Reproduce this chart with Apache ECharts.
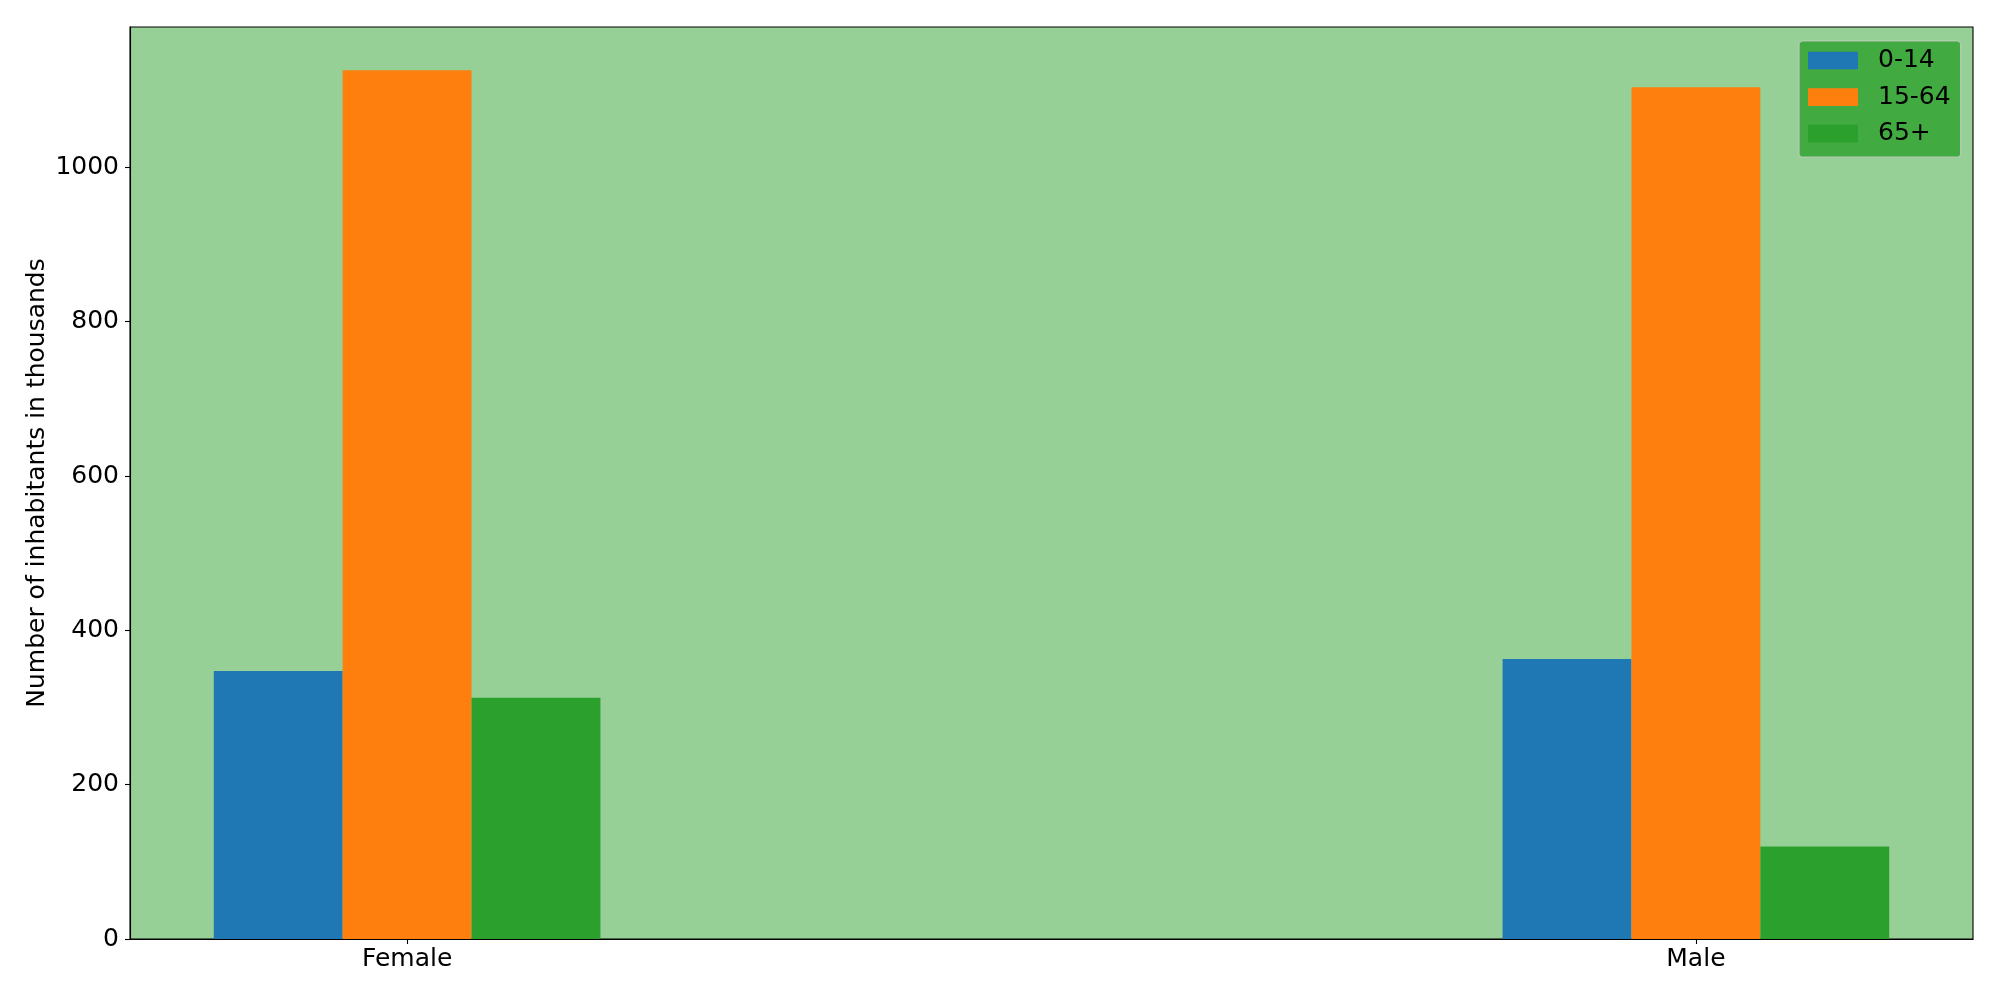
<!DOCTYPE html>
<html>
<head>
<meta charset="utf-8">
<script src="https://cdn.jsdelivr.net/npm/echarts@6/dist/echarts.min.js"></script>
<style>
html,body{margin:0;padding:0;background:#fff;}
#chart{width:2000px;height:1000px;}
</style>
</head>
<body>
<div id="chart"></div>
<script>
const categories = ['Female', 'Male'];
const groups = ['0-14', '15-64', '65+'];
const values0to14 = [347.5, 363];
const values15to64 = [1126, 1104];
const values65plus = [312.6, 119.8];
const yTicks = [0, 200, 400, 600, 800, 1000];
const colors = ['#1f77b4', '#ff7f0e', '#2ca02c'];

const seriesValues = [values0to14, values15to64, values65plus];
const offsets = [-0.1, 0, 0.1];
const barW = 0.1;
const FONT = 'DejaVu Sans';
const FS = 25;

const chart = echarts.init(document.getElementById('chart'), null, {renderer: 'canvas'});

const series = groups.map((g, si) => ({
  name: g,
  type: 'custom',
  itemStyle: {color: colors[si]},
  encode: {x: 0, y: 1},
  data: categories.map((c, ci) => [ci, seriesValues[si][ci]]),
  renderItem: function (params, api) {
    const x = api.value(0), y = api.value(1);
    const off = offsets[params.seriesIndex];
    const p0 = api.coord([x + off - barW / 2, y]);
    const p1 = api.coord([x + off + barW / 2, 0]);
    return {
      type: 'rect',
      shape: {x: p0[0], y: p0[1], width: p1[0] - p0[0], height: p1[1] - p0[1]},
      style: {fill: colors[params.seriesIndex]}
    };
  }
}));

const option = {
  animation: false,
  color: colors,
  textStyle: {fontFamily: FONT},
  grid: {
    left: 130, right: 27, top: 27, bottom: 61,
    show: true, backgroundColor: '#96d096', borderColor: '#000', borderWidth: 1.1
  },
  legend: {
    orient: 'vertical',
    left: 1799, top: 41,
    icon: 'rect',
    itemWidth: 50, itemHeight: 17.7, itemGap: 9.6,
    padding: [6, 10, 10, 9],
    backgroundColor: 'rgba(44,160,44,0.8)',
    borderColor: 'rgba(204,204,204,0.8)',
    borderWidth: 1.2,
    borderRadius: 4,
    textStyle: {fontFamily: FONT, fontSize: FS, color: '#000', lineHeight: 27, padding: [0, 0, 0, 15]},
    data: groups
  },
  xAxis: {
    type: 'value',
    min: -0.215, max: 1.215,
    splitLine: {show: false},
    axisLine: {show: true, onZero: false, lineStyle: {color: '#000', width: 1.1}},
    axisTick: {show: true, length: 5, customValues: [0, 1], lineStyle: {color: '#000', width: 1.1}},
    axisLabel: {
      customValues: [0, 1],
      formatter: v => categories[Math.round(v)],
      fontFamily: FONT, fontSize: FS, color: '#000', margin: 8
    }
  },
  yAxis: {
    type: 'value',
    min: 0, max: 1182,
    name: 'Number of inhabitants in thousands',
    nameLocation: 'middle',
    nameGap: 80,
    nameMoveOverlap: false,
    nameTextStyle: {fontFamily: FONT, fontSize: FS, color: '#000'},
    splitLine: {show: false},
    axisLine: {show: true, onZero: false, lineStyle: {color: '#000', width: 1.1}},
    axisTick: {show: true, length: 5, customValues: yTicks, lineStyle: {color: '#000', width: 1.1}},
    axisLabel: {customValues: yTicks, formatter: v => String(v), fontFamily: FONT, fontSize: FS, color: '#000', margin: 11}
  },
  series: series
};
chart.setOption(option);
</script>
</body>
</html>
